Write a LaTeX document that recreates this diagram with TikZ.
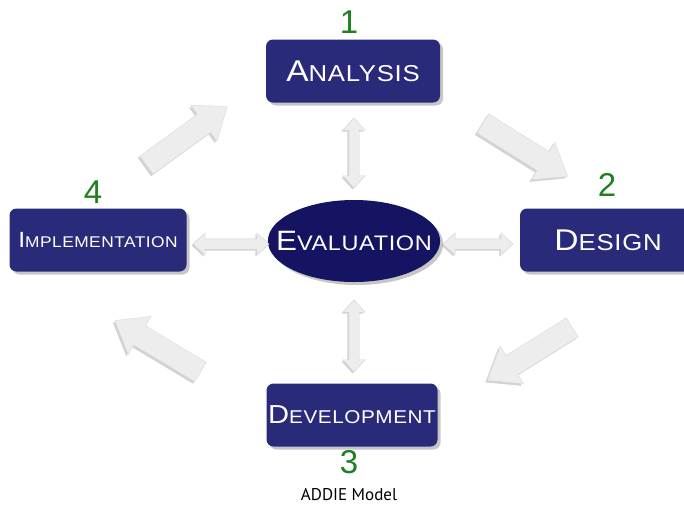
\documentclass[tikz,border=0pt]{standalone}
\usepackage{fontspec}
\setmainfont{Liberation Sans}
\newfontfamily\capsfont[FakeStretch=1.12,LetterSpace=3]{Liberation Sans}
\newfontfamily\captionfont{PT Sans}
\usetikzlibrary{shapes,shapes.arrows,shadows}
\definecolor{navy}{RGB}{42,42,122}
\definecolor{darknavy}{RGB}{20,20,98}
\definecolor{stagegreen}{RGB}{30,128,30}
\tikzstyle{phase}=[rectangle, rounded corners=7pt, fill=navy
%,draw=navy!60!black
,text=white, minimum height=63pt, inner sep=0pt
,drop shadow={shadow xshift=3pt,shadow yshift=-3pt,opacity=.45}
]
\tikzstyle{hub}=[ellipse, fill=darknavy, text=white
,minimum width=167pt, minimum height=82pt, inner sep=-17pt
,drop shadow={shadow xshift=3pt,shadow yshift=-3pt,opacity=.45}
]
\tikzstyle{stagenum}=[text=stagegreen, font=\fontsize{33}{33}\selectfont, inner sep=0pt]
\tikzstyle{cyclearrow}=[single arrow, fill=gray!14, draw=gray!30, thin
,minimum height=100pt, inner sep=11pt
,single arrow head extend=11pt, single arrow tip angle=75
,drop shadow={shadow xshift=-2pt,shadow yshift=-2pt,opacity=.35}
]
\tikzstyle{linkarrow}=[double arrow, fill=gray!14, draw=gray!35, thin
,inner sep=5pt
,double arrow head extend=6pt, double arrow tip angle=85
,drop shadow={shadow xshift=-1.5pt,shadow yshift=-1.5pt,opacity=.35}
]
% first letter and the rest in two sizes
\newcommand{\capword}[4]{\capsfont{\fontsize{#3}{#3}\selectfont #1}{\fontsize{#4}{#4}\selectfont #2}}

\begin{document}
\begin{tikzpicture}[x=1pt,y=-1pt]
    \useasboundingbox (0,0) rectangle (684,515);
    % ADDIE model: four phases round the evaluation hub
    % First we draw the phase boxes
    \foreach \pos/\name/\initial/\tail/\bs/\ss/\w in {{(353,71)/ana/A/NALYSIS/30/23/174},
        {(608,240)/des/D/ESIGN/30/23/176}, {(352,415)/dev/D/EVELOPMENT/26/18.5/171},
        {(98,240)/imp/I/MPLEMENTATION/22/15.5/177}}
        \node[phase, minimum width=\w pt] (\name) at \pos {\capword{\initial}{\tail}{\bs}{\ss}};
    \node[hub] (eva) at (354,241) {\capword{E}{VALUATION}{28}{21}};
    % The stage numbers
    \foreach \pos/\num in {{(349,22)/1}, {(607,185)/2}, {(349,462)/3}, {(93,192)/4}}
        \node[stagenum] (n\num) at \pos {\num};
    % Cycle arrows between the phases
    \foreach \pos/\name/\ang in {{(181,140)/cyc41/36}, {(519,146)/cyc12/-32},
        {(536,350)/cyc23/212}, {(164,350)/cyc34/149}}
        \node[cyclearrow, rotate=\ang] (\name) at \pos {};
    % Links with the evaluation hub
    \foreach \pos/\name/\ang/\len in {{(354,153)/lnkana/90/70}, {(354,336)/lnkdev/90/72},
        {(231,244)/lnkimp/0/76}, {(478,244)/lnkdes/0/70}}
        \node[linkarrow, minimum height=\len pt, rotate=\ang] (\name) at \pos {};
    \node[font=\captionfont\fontsize{17}{17}\selectfont] (cap) at (349,495) {ADDIE Model};
\end{tikzpicture}
\end{document}
